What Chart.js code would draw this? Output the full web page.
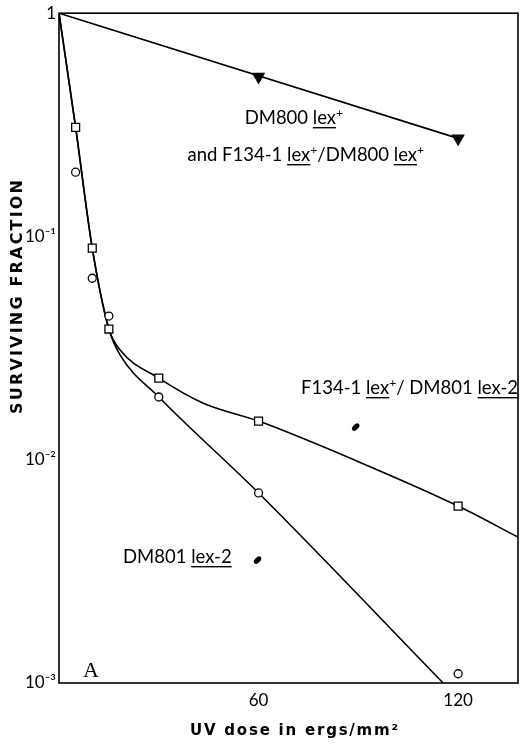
<!DOCTYPE html>
<html>
<head>
<meta charset="utf-8">
<script src="https://cdn.jsdelivr.net/npm/chart.js@4.4.1/dist/chart.umd.min.js"></script>
<style>
  html, body { margin: 0; padding: 0; background: #fff; }
  #wrap { width: 527px; height: 749px; }
</style>
</head>
<body>
<div id="wrap"><canvas id="chart" width="527" height="749"></canvas></div>
<script>
// axis ticks
const doseTicks = [60, 120];
const survTicks = [0.001, 0.01, 0.1, 1];
const survTickLabels = ["10\u207B\u00B3", "10\u207B\u00B2", "10\u207B\u00B9", "1"];

// measured points
const lexPlusDose = [60, 120];
const lexPlusSurv = [0.52, 0.275];
const meroDose = [5, 10, 15, 30, 60, 120];
const meroSurv = [0.308, 0.0887, 0.0385, 0.0232, 0.0149, 0.0062];
const lex2Dose = [5, 10, 15, 30, 60, 120];
const lex2Surv = [0.194, 0.065, 0.044, 0.0191, 0.0071, 0.0011];

// hand drawn curves
const lexPlusFitDose = [0, 120];
const lexPlusFitSurv = [1, 0.275];
const meroFitDose = [0, 5, 10, 15, 18.4, 30, 43.4, 60, 90, 120, 138];
const meroFitSurv = [1, 0.308, 0.0887, 0.0385, 0.031, 0.0232, 0.0179, 0.0149, 0.0098, 0.0062, 0.0045];
const lex2FitDose = [0, 5, 10, 15, 18.4, 30, 60, 115.5];
const lex2FitSurv = [1, 0.308, 0.0887, 0.0385, 0.0294, 0.0191, 0.0071, 0.001];

const pts = (xs, ys) => xs.map((x, i) => ({ x: x, y: ys[i] }));

const FONT = "Lato, 'Open Sans', sans-serif";
const TITLE_FONT = "'DejaVu Sans', sans-serif";

// text with underlined / superscript pieces; align "left" or "right" on x
function drawRich(ctx, parts, x, y, size, align) {
  const fontFor = p => (p.sup ? size * 0.65 : size) + "px " + FONT;
  let total = 0;
  for (const p of parts) { ctx.font = fontFor(p); total += ctx.measureText(p.t).width; }
  let cx = align === "right" ? x - total : x;
  ctx.textAlign = "left";
  ctx.textBaseline = "alphabetic";
  for (const p of parts) {
    ctx.font = fontFor(p);
    const w = ctx.measureText(p.t).width;
    ctx.fillText(p.t, cx, p.sup ? y - size * 0.38 : y);
    if (p.u) ctx.fillRect(cx, y + 3, w, 1.4);
    cx += w;
  }
}

function drawSpaced(ctx, text, x, y, width, font) {
  ctx.font = font;
  ctx.letterSpacing = "0px";
  const w = ctx.measureText(text).width;
  const gap = (width - w) / (text.length - 1);
  ctx.letterSpacing = gap + "px";
  ctx.textAlign = "left";
  ctx.textBaseline = "middle";
  ctx.fillText(text, x - width / 2, y);
  ctx.letterSpacing = "0px";
}

function blob(ctx, px, py) {
  ctx.save();
  ctx.translate(px, py);
  ctx.rotate(-Math.PI / 4);
  ctx.beginPath();
  ctx.ellipse(0, 0, 4.5, 2.6, 0, 0, Math.PI * 2);
  ctx.fill();
  ctx.restore();
}

const paperPlugin = {
  id: "paper",
  beforeDraw(chart) {
    const ctx = chart.ctx;
    ctx.save();
    ctx.fillStyle = "#fff";
    ctx.fillRect(0, 0, chart.width, chart.height);
    ctx.restore();
  },
  afterDraw(chart) {
    const { ctx, chartArea: a, scales: { x, y } } = chart;
    ctx.save();
    ctx.strokeStyle = "#000";
    ctx.lineWidth = 1.6;
    ctx.strokeRect(a.left, a.top, a.right - a.left, a.bottom - a.top);

    ctx.fillStyle = "#000";
    // axis titles
    drawSpaced(ctx, "UV dose in ergs/mm\u00B2", 294, 731, 208, "bold 15px " + TITLE_FONT);
    ctx.save();
    ctx.translate(18, 297);
    ctx.rotate(-Math.PI / 2);
    drawSpaced(ctx, "SURVIVING FRACTION", 0, 0, 234, "bold 16px " + TITLE_FONT);
    ctx.restore();

    // curve labels
    drawRich(ctx, [{ t: "DM800 " }, { t: "lex", u: true }, { t: "+", sup: true }], 343, 124, 18.5, "right");
    drawRich(ctx, [{ t: "and F134-1 " }, { t: "lex", u: true }, { t: "+", sup: true },
                   { t: "/DM800 " }, { t: "lex", u: true }, { t: "+", sup: true }], 424, 161, 18.5, "right");
    drawRich(ctx, [{ t: "F134-1 " }, { t: "lex", u: true }, { t: "+", sup: true },
                   { t: "/ DM801 " }, { t: "lex-2", u: true }], 518, 394, 18.5, "right");
    drawRich(ctx, [{ t: "DM801 " }, { t: "lex-2", u: true }], 123, 563, 18.5, "left");

    blob(ctx, x.getPixelForValue(89.2), y.getPixelForValue(0.014));
    blob(ctx, x.getPixelForValue(59.7), y.getPixelForValue(0.00355));

    ctx.font = "22px 'Liberation Serif', serif";
    ctx.textAlign = "left";
    ctx.textBaseline = "alphabetic";
    ctx.fillText("A", 83, 677);
    ctx.restore();
  }
};

const fitStyle = {
  type: "line",
  borderColor: "#000",
  borderWidth: 1.6,
  pointRadius: 0,
  fill: false,
  cubicInterpolationMode: "monotone",
  order: 2
};
const markStyle = {
  type: "scatter",
  borderColor: "#000",
  borderWidth: 1.3,
  backgroundColor: "#fff",
  order: 0
};

new Chart(document.getElementById("chart"), {
  data: {
    datasets: [
      { ...markStyle, label: "DM800 lex+", data: pts(lexPlusDose, lexPlusSurv),
        pointStyle: "triangle", rotation: 180, pointRadius: 6.5, backgroundColor: "#000" },
      { ...markStyle, label: "F134-1 lex+/DM801 lex-2", data: pts(meroDose, meroSurv),
        pointStyle: "rect", pointRadius: 5.6 },
      { ...markStyle, label: "DM801 lex-2", data: pts(lex2Dose, lex2Surv),
        pointStyle: "circle", pointRadius: 4 },
      { ...fitStyle, label: "fit lex+", data: pts(lexPlusFitDose, lexPlusFitSurv) },
      { ...fitStyle, label: "fit mero", data: pts(meroFitDose, meroFitSurv) },
      { ...fitStyle, label: "fit lex-2", data: pts(lex2FitDose, lex2FitSurv) }
    ]
  },
  options: {
    responsive: false,
    animation: false,
    devicePixelRatio: 1,
    layout: { padding: { top: 13, right: 9, left: 0, bottom: 0 } },
    plugins: { legend: { display: false }, tooltip: { enabled: false } },
    scales: {
      x: {
        type: "linear",
        min: 0,
        max: 138,
        grid: { display: false, drawTicks: false },
        border: { display: false },
        afterBuildTicks: s => { s.ticks = doseTicks.map(v => ({ value: v })); },
        afterFit: s => { s.height = 66; },
        ticks: {
          color: "#000",
          padding: 7,
          maxRotation: 0,
          font: { family: FONT, size: 17 }
        }
      },
      y: {
        type: "logarithmic",
        min: 0.001,
        max: 1,
        grid: { display: false, drawTicks: false },
        border: { display: false },
        afterBuildTicks: s => { s.ticks = survTicks.map(v => ({ value: v })); },
        afterFit: s => { s.width = 59; },
        ticks: {
          color: "#000",
          padding: 3,
          font: { family: FONT, size: 17 },
          callback: v => survTickLabels[survTicks.indexOf(v)]
        }
      }
    }
  },
  plugins: [paperPlugin]
});
</script>
</body>
</html>
